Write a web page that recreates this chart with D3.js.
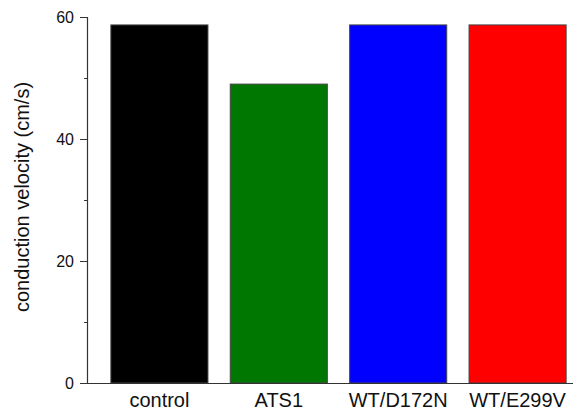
<!DOCTYPE html>
<html>
<head>
<meta charset="utf-8">
<script src="https://cdn.jsdelivr.net/npm/d3@7"></script>
<style>
  body { margin: 0; background: #fff; }
  svg { display: block; font-family: "Liberation Sans", Arial, sans-serif; }
</style>
</head>
<body>
<div id="chart"></div>
<script>
const groups = ["control", "ATS1", "WT/D172N", "WT/E299V"];
const velocity = [58.7, 49.0, 58.7, 58.7];
const barColors = ["#000000", "#007700", "#0000ff", "#ff0000"];
const majorTicks = [0, 20, 40, 60];
const minorTicks = [10, 30, 50];

const width = 573, height = 413;
const margin = { top: 17, right: 0, bottom: 30, left: 87 };

const svg = d3.select("#chart").append("svg")
    .attr("width", width)
    .attr("height", height);

const y = d3.scaleLinear()
    .domain([0, 60])
    .range([height - margin.bottom, margin.top]);

const x = d3.scaleBand()
    .domain(groups)
    .range([margin.left, 590])
    .paddingInner(0.187)
    .paddingOuter(0.2);

// bars
svg.selectAll("rect.bar")
    .data(groups)
    .enter().append("rect")
    .attr("class", "bar")
    .attr("x", d => x(d))
    .attr("width", x.bandwidth())
    .attr("y", (d, i) => y(velocity[i]))
    .attr("height", (d, i) => y(0) - y(velocity[i]))
    .attr("fill", (d, i) => barColors[i])
    .attr("stroke", "#444")
    .attr("stroke-width", 1);

// y axis with major ticks
const yAxis = svg.append("g")
    .attr("transform", `translate(${margin.left},0)`)
    .call(d3.axisLeft(y).tickValues(majorTicks).tickSize(7).tickPadding(6));
yAxis.select(".domain").attr("stroke", "#333").attr("stroke-width", 1.2);
yAxis.selectAll(".tick line").attr("stroke", "#333");
yAxis.selectAll(".tick text")
    .attr("fill", "#111")
    .style("font-size", "16px");

// minor ticks
svg.append("g")
    .attr("transform", `translate(${margin.left},0)`)
    .call(d3.axisLeft(y).tickValues(minorTicks).tickSize(3).tickFormat(""))
    .call(g => g.select(".domain").remove())
    .selectAll(".tick line").attr("stroke", "#333");

// x axis
const xAxis = svg.append("g")
    .attr("transform", `translate(0,${y(0)})`)
    .call(d3.axisBottom(x).tickSize(0).tickPadding(10).tickSizeOuter(0));
xAxis.select(".domain").attr("stroke", "#333").attr("stroke-width", 1.2);
xAxis.selectAll(".tick text")
    .attr("fill", "#111")
    .style("font-size", "20px");

// y axis title
svg.append("text")
    .attr("transform", `translate(29,197) rotate(-90)`)
    .attr("text-anchor", "middle")
    .attr("fill", "#111")
    .style("font-size", "20px")
    .text("conduction velocity (cm/s)");
</script>
</body>
</html>
